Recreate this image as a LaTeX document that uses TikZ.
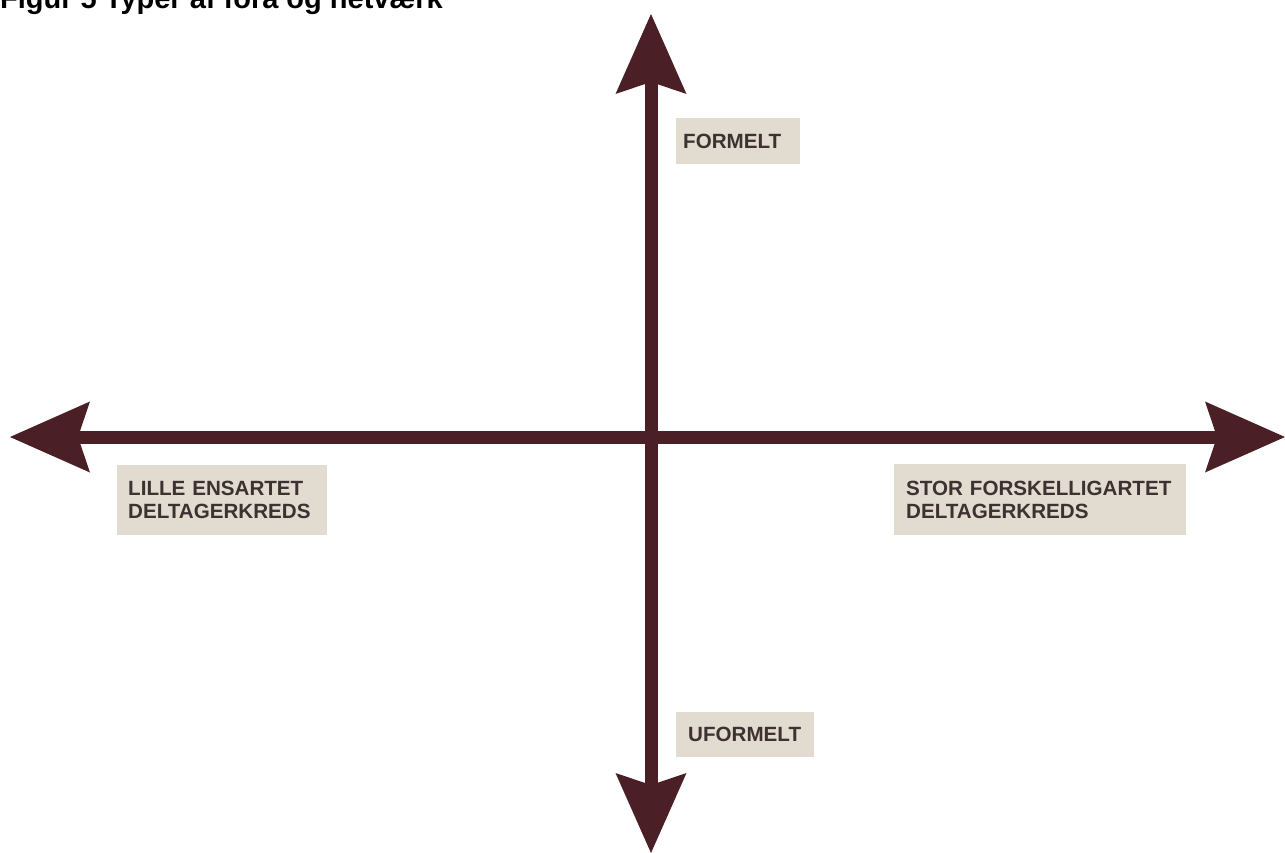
\documentclass[tikz,border=0pt]{standalone}
\usepackage{fontspec}
\setmainfont{Liberation Sans}
\usetikzlibrary{arrows.meta}
\definecolor{axiscol}{HTML}{4A2026}
\definecolor{boxcol}{HTML}{E2DBCF}
\definecolor{labcol}{HTML}{3D3131}
\tikzset{
  axis/.style={draw=axiscol, line width=13pt,
    -{Stealth[length=80pt,width=71pt,inset=12pt,line width=0pt,fill=axiscol]}},
  labelbox/.style={fill=boxcol, draw=none, inner xsep=11pt, inner ysep=0pt,
    text=labcol, font=\bfseries\fontsize{20.6}{23}\selectfont, align=left,
    anchor=north west},
}
\begin{document}
\begin{tikzpicture}[x=1pt,y=-1pt]
\useasboundingbox (0,0) rectangle (1285,853);
\clip (0,0) rectangle (1285,853);
\node[anchor=base west, inner sep=0pt, font=\bfseries\fontsize{29}{32}\selectfont] (title) at (0,9) {Figur 5 Typer af fora og netværk};
\coordinate (c) at (651,437);
\coordinate (top) at (651,14);
\coordinate (bottom) at (651,853);
\coordinate (left) at (10,437);
\coordinate (right) at (1285,437);
\draw[axis] (c) -- (top);
\draw[axis] (c) -- (bottom);
\draw[axis] (c) -- (left);
\draw[axis] (c) -- (right);
\node[labelbox, minimum width=124pt, minimum height=46pt, inner xsep=7pt, text width=110pt] (formelt) at (676,118) {FORMELT};
\node[labelbox, minimum width=138pt, minimum height=45pt, inner xsep=12pt, text width=114pt] (uformelt) at (676,712) {UFORMELT};
\node[labelbox, minimum width=210pt, minimum height=70pt, text width=188pt] (lille) at (117,465) {LILLE ENSARTET\\DELTAGERKREDS};
\node[labelbox, minimum width=292pt, minimum height=71pt, inner xsep=12pt, text width=268pt] (stor) at (894,464) {STOR FORSKELLIGARTET\\DELTAGERKREDS};
\end{tikzpicture}
\end{document}
